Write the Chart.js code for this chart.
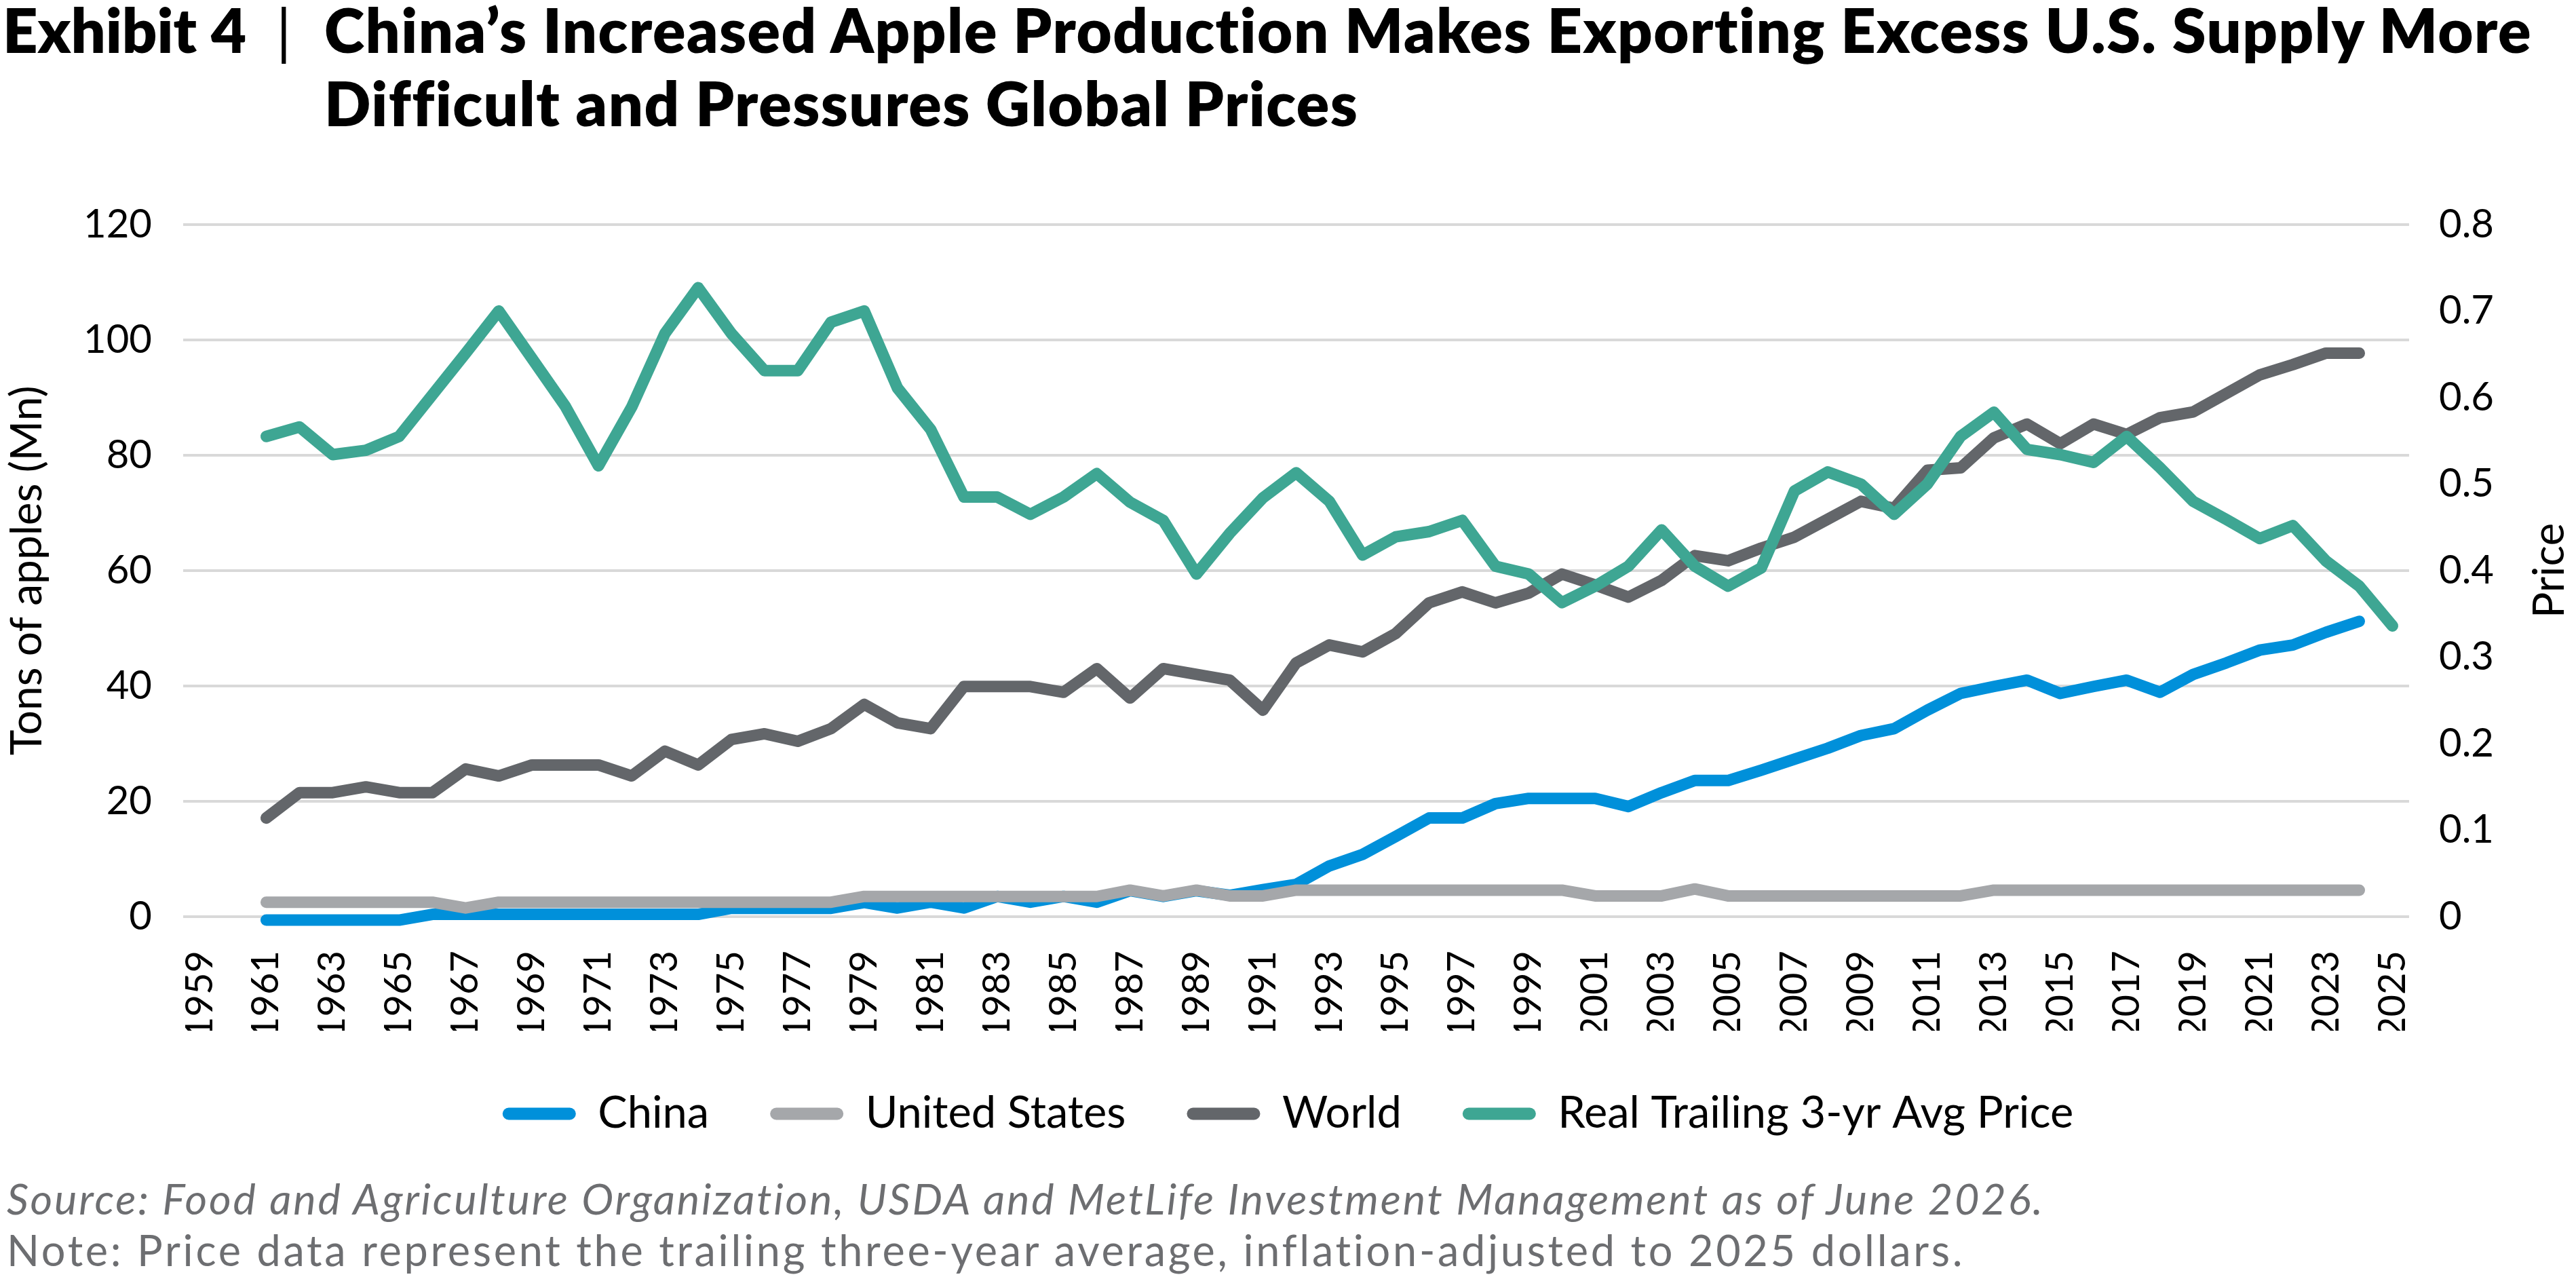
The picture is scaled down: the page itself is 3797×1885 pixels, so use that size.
<!DOCTYPE html>
<html>
<head>
<meta charset="utf-8">
<script src="https://cdn.jsdelivr.net/npm/chart.js@4.4.1/dist/chart.umd.min.js"></script>
<style>
html,body{margin:0;padding:0;background:#fff;}
body{width:3797px;height:1885px;position:relative;overflow:hidden;font-family:Lato,"Noto Sans",sans-serif;}
.t{position:absolute;font-weight:800;font-size:90px;line-height:108px;color:#000;white-space:nowrap;}
#ex{left:4px;top:-11px;}
#bar{left:407px;top:-11px;font-weight:400;}
#ttl{left:478px;top:-11px;letter-spacing:1.5px;}
#wrap{position:absolute;left:0;top:250px;width:3797px;height:1434px;}
.f{position:absolute;left:10px;font-size:63px;line-height:72px;color:#6d6e71;white-space:nowrap;}
#src{top:1730px;font-style:italic;letter-spacing:2.8px;}
#note{top:1806px;letter-spacing:3.7px;}
</style>
</head>
<body>
<div class="t" id="ex">Exhibit 4</div>
<div class="t" id="bar">|</div>
<div class="t" id="ttl">China’s Increased Apple Production Makes Exporting Excess U.S. Supply More<br>Difficult and Pressures Global Prices</div>
<div id="wrap"><canvas id="c" width="3797" height="1434" style="width:3797px;height:1434px;"></canvas></div>
<div class="f" id="src">Source: Food and Agriculture Organization, USDA and MetLife Investment Management as of June 2026.</div>
<div class="f" id="note">Note: Price data represent the trailing three-year average, inflation-adjusted to 2025 dollars.</div>
<script>
// Category labels (years) shown on the x axis
const years = ['1959','1960','1961','1962','1963','1964','1965','1966','1967','1968','1969','1970',
  '1971','1972','1973','1974','1975','1976','1977','1978','1979','1980','1981','1982','1983','1984',
  '1985','1986','1987','1988','1989','1990','1991','1992','1993','1994','1995','1996','1997','1998',
  '1999','2000','2001','2002','2003','2004','2005','2006','2007','2008','2009','2010','2011','2012',
  '2013','2014','2015','2016','2017','2018','2019','2020','2021','2022','2023','2024','2025'];

// Series values, 1959 -> 2025 (null where no data)
const china = [null,null,
  -0.6,-0.6,-0.6,-0.6,-0.6,0.4,0.4,0.4,0.4,0.4,
  0.4,0.4,0.4,0.4,1.45,1.45,1.45,1.45,2.45,1.5,
  2.5,1.5,3.5,2.5,3.5,2.5,4.5,3.5,4.5,3.7,
  4.7,5.6,8.8,10.8,13.9,17.1,17.1,19.6,20.5,20.5,
  20.5,19.1,21.5,23.6,23.6,25.4,27.3,29.2,31.4,32.6,
  35.8,38.7,39.9,41.0,38.7,39.9,41.0,38.9,42.0,44.0,
  46.2,47.1,49.3,51.2,null];

const unitedStates = [null,null,
  2.5,2.5,2.5,2.5,2.5,2.5,1.5,2.5,2.5,2.5,
  2.5,2.5,2.5,2.5,2.5,2.5,2.5,2.5,3.5,3.5,
  3.5,3.5,3.5,3.5,3.5,3.5,4.6,3.6,4.6,3.6,
  3.6,4.6,4.6,4.6,4.6,4.6,4.6,4.6,4.6,4.6,
  3.6,3.6,3.6,4.8,3.6,3.6,3.6,3.6,3.6,3.6,
  3.6,3.6,4.6,4.6,4.6,4.6,4.6,4.6,4.6,4.6,
  4.6,4.6,4.6,4.6,null];

const world = [null,null,
  17.1,21.5,21.5,22.5,21.5,21.5,25.6,24.4,26.3,26.3,
  26.3,24.4,28.7,26.3,30.7,31.7,30.4,32.6,36.8,33.6,
  32.6,39.9,39.9,39.9,38.9,43.0,37.9,43.0,42.0,41.0,
  35.8,44.0,47.1,45.9,49.1,54.4,56.3,54.4,56.1,59.4,
  57.5,55.4,58.3,62.6,61.7,63.9,65.8,68.9,72.0,70.8,
  77.4,77.8,83.0,85.4,82.0,85.4,83.6,86.5,87.5,90.7,
  93.9,95.7,97.7,97.7,null];

const price = [null,null,
  0.555,0.566,0.534,0.539,0.555,0.603,0.651,0.700,0.645,0.590,
  0.521,0.589,0.674,0.727,0.674,0.631,0.631,0.687,0.700,0.611,
  0.563,0.485,0.485,0.465,0.485,0.512,0.479,0.458,0.396,0.443,
  0.484,0.513,0.480,0.418,0.439,0.445,0.458,0.405,0.396,0.363,
  0.382,0.405,0.447,0.405,0.382,0.403,0.492,0.514,0.500,0.465,
  0.500,0.555,0.583,0.540,0.534,0.525,0.555,0.519,0.480,0.459,
  0.437,0.452,0.411,0.382,0.336];

const seriesNames = ['China','United States','World','Real Trailing 3-yr Avg Price'];
const seriesColors = ['#0090DA','#A5A7AA','#63666A','#3EA693'];
const leftTicks = [0,20,40,60,80,100,120];
const rightTicks = [0,0.1,0.2,0.3,0.4,0.5,0.6,0.7,0.8];

Chart.defaults.font.family = 'Lato, "Noto Sans", sans-serif';
Chart.defaults.color = '#000';

function ds(i, data, axis, order){
  return {label: seriesNames[i], data: data, yAxisID: axis, order: order,
    borderColor: seriesColors[i], backgroundColor: seriesColors[i],
    borderWidth: 17, pointRadius: 0, pointHoverRadius: 0, tension: 0,
    borderCapStyle: 'round', borderJoinStyle: 'round', fill: false, spanGaps: false, clip: 30};
}

const priceTitle = {
  id: 'priceTitle',
  afterDraw(chart){
    const ctx = chart.ctx, a = chart.chartArea;
    ctx.save();
    ctx.translate(3758, (a.top + a.bottom) / 2);
    ctx.rotate(-Math.PI / 2);
    ctx.font = '64px Lato, "Noto Sans", sans-serif';
    ctx.fillStyle = '#000';
    ctx.textAlign = 'center';
    ctx.textBaseline = 'middle';
    ctx.fillText('Price', 0, 0);
    ctx.restore();
  }
};

new Chart(document.getElementById('c'), {
  type: 'line',
  data: {
    labels: years,
    datasets: [
      ds(0, china, 'y', 4),
      ds(1, unitedStates, 'y', 3),
      ds(2, world, 'y', 2),
      ds(3, price, 'y1', 1)
    ]
  },
  options: {
    responsive: false,
    devicePixelRatio: 1,
    animation: false,
    events: [],
    layout: {padding: {top: 74, left: 0, right: 0, bottom: 0}},
    plugins: {
      tooltip: {enabled: false},
      title: {display: false},
      legend: {
        position: 'bottom',
        labels: {
          boxWidth: 108, boxHeight: 18, padding: 90,
          useBorderRadius: true, borderRadius: 9,
          font: {size: 65}, color: '#000',
          sort: (a, b) => a.datasetIndex - b.datasetIndex,
          generateLabels(chart){
            const items = Chart.defaults.plugins.legend.labels.generateLabels(chart);
            items.forEach(it => { it.lineWidth = 0; it.fillStyle = seriesColors[it.datasetIndex]; it.strokeStyle = seriesColors[it.datasetIndex]; });
            return items;
          }
        }
      }
    },
    scales: {
      x: {
        type: 'category',
        offset: true,
        grid: {display: false, drawTicks: false},
        border: {display: false},
        ticks: {
          autoSkip: false, minRotation: 90, maxRotation: 90, padding: 50,
          font: {size: 56}, color: '#000',
          callback: function(v, i){ return i % 2 === 0 ? years[i] : ''; }
        },
        afterFit(scale){ scale.height = 168; }
      },
      y: {
        position: 'left', min: 0, max: 120,
        afterBuildTicks(scale){ scale.ticks = leftTicks.map(v => ({value: v})); },
        grid: {color: '#D9D9D9', lineWidth: 4, drawTicks: false},
        border: {display: false},
        ticks: {padding: 46, font: {size: 58}, color: '#000'},
        title: {display: true, text: 'Tons of apples (Mn)', font: {size: 64}, color: '#000', padding: {top: 2, bottom: 2}},
        afterFit(scale){ scale.width = 270; }
      },
      y1: {
        position: 'right', min: 0, max: 0.8,
        afterBuildTicks(scale){ scale.ticks = rightTicks.map(v => ({value: v})); },
        grid: {display: false, drawTicks: false},
        border: {display: false},
        ticks: {padding: 44, font: {size: 58}, color: '#000', callback: v => String(Math.round(v * 10) / 10)},
        afterFit(scale){ scale.width = 246; }
      }
    }
  },
  plugins: [priceTitle]
});
</script>
</body>
</html>
